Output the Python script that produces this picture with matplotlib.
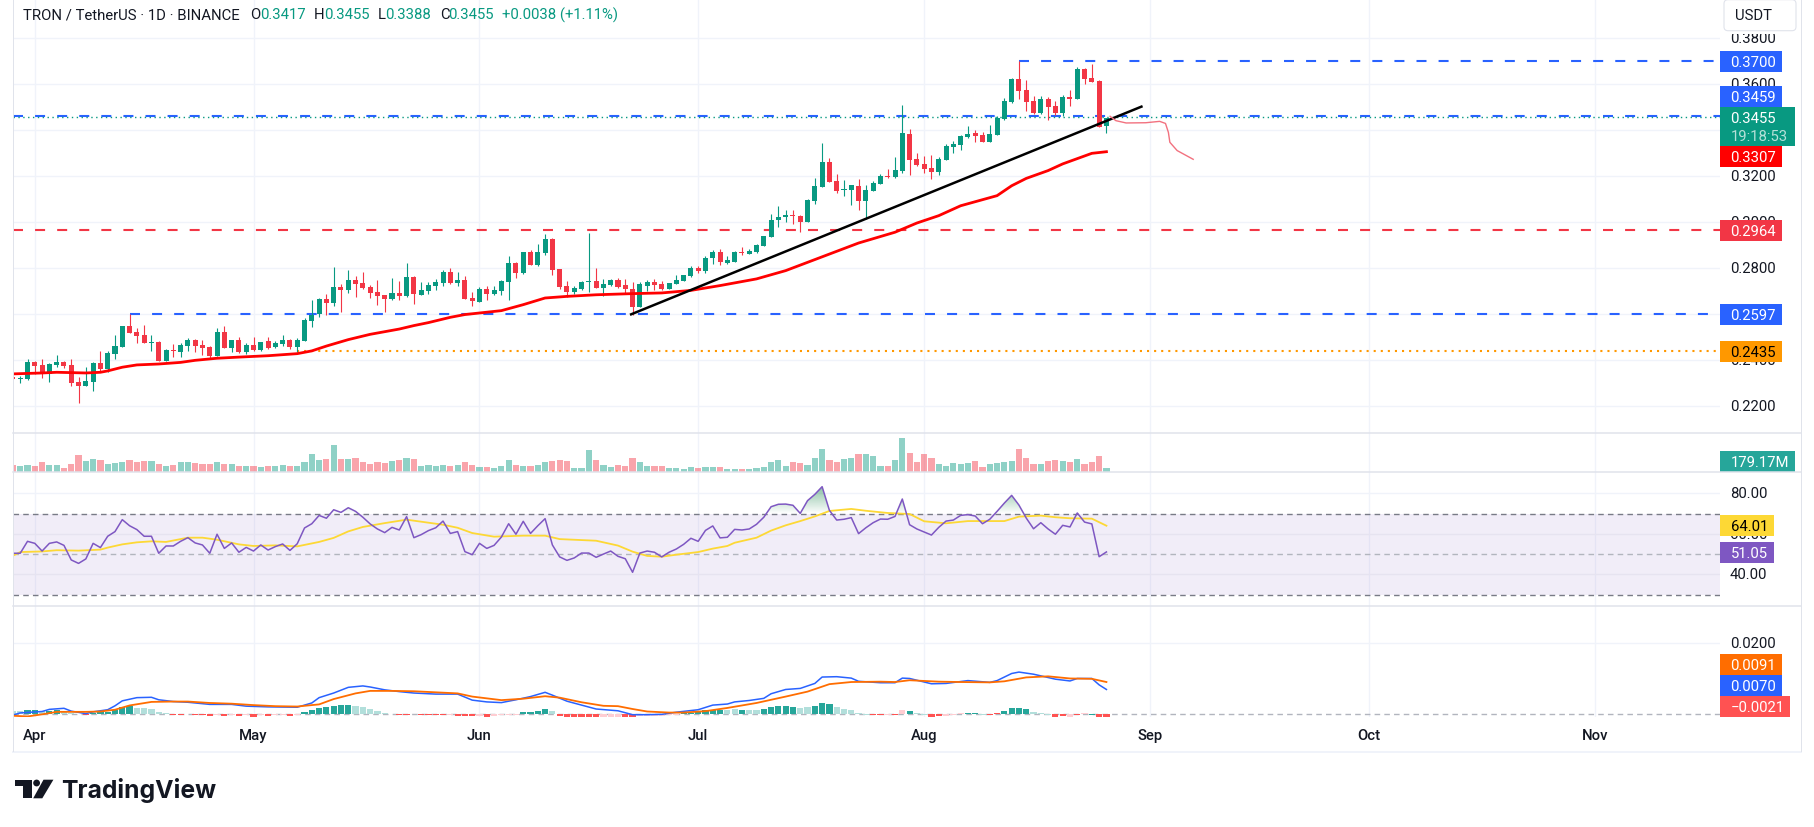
import numpy as np
import matplotlib
matplotlib.use("Agg")
import matplotlib.pyplot as plt
from matplotlib.patches import Rectangle, FancyBboxPatch, Polygon, Circle
from matplotlib.path import Path

plt.rcParams['font.family'] = ['Roboto', 'DejaVu Sans']
plt.rcParams['lines.scale_dashes'] = False

# daily bars, index 0 is 1 April, last bar is 26 August
bar_idx = np.arange(-3, 148)
opens = [.2328,.2320,.2319,.2391,.2380,.2342,.2380,.2391,.2380,.2304,.2288,.2307,.2388,.2362,.2429,.2459,.2549,.2523,.2510,.2477,
         .2480,.2397,.2445,.2436,.2462,.2488,.2467,.2458,.2419,.2523,.2454,.2488,.2436,.2467,.2445,.2484,.2457,.2471,.2487,.2457,
         .2485,.2571,.2601,.2667,.2649,.2719,.2706,.2749,.2736,.2719,.2697,.2684,.2667,.2693,.2680,.2762,.2684,.2701,.2723,.2736,
         .2784,.2736,.2749,.2671,.2654,.2710,.2688,.2701,.2741,.2823,.2780,.2871,.2814,.2867,.2928,.2797,.2723,.2697,.2710,.2742,
         .2745,.2714,.2727,.2749,.2727,.2710,.2632,.2723,.2741,.2732,.2710,.2732,.2745,.2767,.2801,.2788,.2845,.2871,.2823,.2827,
         .2871,.2862,.2870,.2897,.2936,.3010,.3023,.3032,.3028,.3001,.3093,.3154,.3262,.3180,.3142,.3141,.3158,.3093,.3136,.3167,
         .3201,.3197,.3223,.3384,.3275,.3254,.3236,.3219,.3271,.3328,.3336,.3371,.3388,.3380,.3349,.3380,.3449,.3523,.3623,.3575,
         .3528,.3475,.3536,.3506,.3475,.3545,.3536,.3667,.3627,.3614,.3417]
highs = [.2328,.2333,.2406,.2397,.2406,.2388,.2423,.2397,.2406,.2328,.2371,.2391,.2441,.2441,.2510,.2549,.2600,.2541,.2554,.2510,
         .2484,.2449,.2471,.2475,.2497,.2493,.2488,.2462,.2541,.2549,.2488,.2501,.2475,.2501,.2480,.2501,.2485,.2510,.2493,.2498,
         .2584,.2662,.2671,.2688,.2806,.2732,.2793,.2767,.2784,.2727,.2749,.2684,.2758,.2745,.2823,.2767,.2741,.2741,.2754,.2793,
         .2801,.2784,.2767,.2697,.2719,.2723,.2723,.2749,.2854,.2828,.2871,.2880,.2906,.2949,.2932,.2797,.2745,.2723,.2745,.2954,
         .2801,.2754,.2754,.2758,.2754,.2741,.2741,.2749,.2754,.2745,.2736,.2771,.2771,.2810,.2810,.2854,.2880,.2884,.2854,.2875,
         .2893,.2884,.2906,.2941,.3036,.3071,.3054,.3054,.3032,.3101,.3193,.3345,.3280,.3210,.3184,.3162,.3188,.3162,.3180,.3210,
         .3232,.3284,.3510,.3406,.3301,.3288,.3293,.3284,.3341,.3354,.3380,.3419,.3401,.3393,.3423,.3462,.3541,.3628,.3701,.3619,
         .3549,.3549,.3545,.3528,.3554,.3575,.3675,.3671,.3688,.3619,.3455]
lows = [.2319,.2303,.2314,.2339,.2323,.2307,.2371,.2365,.2290,.2216,.2288,.2268,.2348,.2348,.2406,.2459,.2520,.2475,.2475,.2441,
        .2397,.2397,.2414,.2414,.2441,.2436,.2423,.2410,.2419,.2454,.2436,.2432,.2427,.2441,.2441,.2449,.2454,.2464,.2449,.2435,
        .2484,.2545,.2590,.2597,.2636,.2610,.2693,.2675,.2710,.2671,.2641,.2610,.2662,.2662,.2675,.2645,.2684,.2688,.2706,.2723,
        .2732,.2723,.2667,.2636,.2654,.2662,.2684,.2684,.2662,.2758,.2775,.2814,.2810,.2858,.2771,.2710,.2675,.2688,.2706,.2697,
        .2714,.2680,.2723,.2714,.2693,.2597,.2632,.2701,.2706,.2706,.2710,.2732,.2745,.2762,.2780,.2780,.2819,.2814,.2819,.2827,
        .2858,.2862,.2867,.2897,.2936,.2980,.3001,.2993,.2958,.3001,.3080,.3154,.3175,.3127,.3114,.3075,.3054,.3014,.3136,.3167,
        .3193,.3193,.3214,.3206,.3245,.3214,.3188,.3206,.3271,.3301,.3315,.3367,.3349,.3349,.3349,.3380,.3445,.3519,.3536,.3484,
        .3471,.3471,.3445,.3467,.3462,.3506,.3536,.3601,.3610,.3414,.3388]
closes = [.2319,.2323,.2391,.2377,.2339,.2384,.2393,.2375,.2303,.2288,.2310,.2388,.2362,.2432,.2462,.2549,.2520,.2506,.2475,.2480,
          .2397,.2445,.2442,.2467,.2488,.2462,.2454,.2419,.2523,.2454,.2488,.2436,.2467,.2445,.2480,.2454,.2474,.2488,.2457,.2488,
          .2575,.2597,.2667,.2649,.2719,.2706,.2749,.2732,.2714,.2693,.2680,.2667,.2693,.2680,.2762,.2688,.2706,.2727,.2741,.2784,
          .2736,.2749,.2667,.2658,.2710,.2688,.2706,.2745,.2823,.2780,.2871,.2814,.2871,.2928,.2793,.2719,.2697,.2714,.2741,.2745,
          .2714,.2732,.2749,.2719,.2710,.2632,.2732,.2741,.2727,.2710,.2736,.2749,.2771,.2801,.2788,.2845,.2871,.2827,.2836,.2871,
          .2867,.2875,.2901,.2941,.3010,.3023,.3032,.3029,.3001,.3097,.3158,.3262,.3175,.3136,.3145,.3162,.3093,.3141,.3171,.3201,
          .3197,.3228,.3388,.3271,.3249,.3232,.3219,.3275,.3332,.3341,.3375,.3384,.3375,.3349,.3384,.3454,.3528,.3623,.3571,.3523,
          .3475,.3536,.3501,.3475,.3545,.3536,.3667,.3623,.3610,.3414,.3455]

# 50 day moving average, read at these bars
ma_idx = [-3,1,3,7,9,10,12,14,17,20,22,25,28,32,36,38,40,43,46,50,52,54,57,59,64,67,70,73,77,82,86,90,94,99,103,106,109,113,118,121,124,127,132,134,136,139,141,145,147]
ma_val = [.2341,.2345,.2348,.2345,.2348,.2354,.2370,.2380,.2384,.2391,.2400,.2409,.2414,.2420,.2429,.2441,.2462,.2490,.2513,.2536,.2551,.2564,.2587,.2599,.2616,.2642,.2671,.2678,.2685,.2690,.2693,.2704,.2725,.2754,.2790,.2826,.2862,.2910,.2957,.2997,.3029,.3072,.3116,.3159,.3191,.3225,.3254,.3300,.3307]

trend_idx = [81.8, 151.8]
trend_val = [.2600, .3503]
sketch_idx = [147.5,148.3,149.7,152.4,154.3,155.1,155.5,155.7,156.7,157.8,158.9]
sketch_val = [.3461,.3442,.3432,.3433,.3439,.3430,.3391,.3348,.3312,.3293,.3274]

volume_m = [303,262,303,262,427,303,303,179,345,717,469,551,510,345,400,427,510,427,469,469,345,262,303,427,427,386,345,345,427,345,
            345,262,262,262,220,262,262,303,262,262,427,758,510,551,1130,551,551,593,427,345,427,386,469,510,593,551,262,303,262,303,
            262,303,427,303,220,220,179,262,510,303,262,262,303,427,469,510,469,179,179,923,510,303,220,303,262,593,427,262,262,262,
            179,179,138,220,179,220,220,220,138,138,138,138,179,220,427,510,262,427,386,303,593,965,510,427,551,593,758,758,675,262,
            262,510,1419,799,427,758,593,345,262,386,345,386,469,220,345,386,427,469,965,593,345,345,469,510,469,427,551,345,427,675,179]

rsi = [50.4,50.4,56.3,55.3,51.5,55.3,56.0,54.3,47.1,45.4,47.6,55.3,53.2,58.8,61.1,67.0,64.0,62.1,58.8,58.8,50.4,54.0,54.0,56.3,58.1,
       55.5,54.5,50.4,59.8,52.8,55.5,50.9,53.3,51.5,54.5,52.0,53.7,55.0,51.8,55.1,62.9,65.0,69.1,67.7,71.9,70.6,72.9,71.1,68.2,64.9,
       62.4,60.6,63.2,61.9,68.5,58.1,59.6,61.6,63.0,66.3,60.2,61.1,51.2,49.7,55.3,52.8,54.3,58.4,65.0,59.8,66.2,60.2,64.0,67.5,54.5,
       48.6,46.9,48.1,50.5,50.5,48.4,50.0,51.5,48.9,47.7,41.0,50.5,51.5,50.9,48.6,50.9,52.5,54.8,57.8,56.3,61.7,63.9,58.0,58.3,62.2,
       61.9,62.4,64.7,68.2,73.4,74.6,74.7,74.1,70.1,76.4,79.5,83.3,71.6,66.8,67.2,68.0,60.1,63.0,65.5,67.3,67.2,68.6,77.2,64.5,62.4,
       60.9,59.4,63.2,66.3,66.8,69.1,69.5,68.8,65.0,67.2,71.1,75.2,79.0,74.2,67.8,62.5,65.5,62.4,59.8,64.2,63.4,70.3,65.8,64.9,48.7,51.05]
rsi_ma_idx = [-3,-2,1,3,6,9,10,12,14,16,18,21,23,25,28,30,33,36,39,41,43,45,48,51,53,56,58,60,63,67,70,72,77,80,82,84,86,88,91,93,95,96,99,101,103,105,107,109,112,114,117,120,122,125,128,133,135,138,140,142,145,147]
rsi_ma_val = [49.2,51.0,51.3,51.9,51.7,52.2,53.2,54.8,55.8,56.3,56.0,58.1,58.1,57.1,54.8,54.0,54.3,53.8,56.0,58.0,61.2,63.4,65.3,67.0,66.0,64.5,63.0,60.4,58.6,59.1,59.1,57.4,56.6,54.2,51.2,49.1,48.7,49.7,51.0,52.7,54.0,55.6,58.1,61.6,64.2,66.3,68.6,71.3,72.3,71.4,70.3,69.8,66.2,65.2,66.3,66.3,68.5,69.0,68.2,67.7,67.5,64.01]

macd_idx = [-3,-2,1,2,4,5,7,8,10,11,12,14,16,17,19,21,24,27,29,32,36,38,39,41,43,45,46,48,50,52,55,58,60,62,64,66,68,70,71,73,75,77,80,82,84,86,88,91,93,95,96,98,100,101,103,105,107,108,110,112,113,116,118,119,120,123,125,128,131,132,134,135,137,140,142,143,145,146,147]
macd_val = [-.0002,.0004,.0008,.0014,.0017,.0009,.0002,.0007,.0013,.0024,.0038,.0047,.0048,.0041,.0036,.0034,.0028,.0028,.0023,.0021,.0020,.0032,.0047,.0060,.0076,.0080,.0077,.0069,.0064,.0060,.0057,.0057,.0040,.0035,.0033,.0041,.0050,.0062,.0054,.0037,.0026,.0015,.0010,-.0001,-.0001,.0000,.0006,.0013,.0026,.0029,.0035,.0039,.0045,.0058,.0070,.0073,.0087,.0105,.0106,.0102,.0093,.0089,.0089,.0102,.0101,.0086,.0087,.0095,.0090,.0095,.0115,.0119,.0113,.0099,.0094,.0101,.0101,.0083,.0070]
signal_idx = [-3,-1,1,3,7,9,11,13,16,19,21,24,27,30,33,36,39,41,44,46,49,52,55,58,60,64,67,70,72,75,78,80,82,84,87,89,92,95,99,103,106,109,112,116,118,120,124,127,131,133,136,139,142,145,147]
signal_val = [-.0004,-.0006,.0000,.0007,.0007,.0008,.0013,.0025,.0035,.0036,.0036,.0032,.0030,.0026,.0023,.0022,.0028,.0043,.0059,.0066,.0066,.0065,.0062,.0059,.0050,.0040,.0044,.0051,.0047,.0034,.0024,.0023,.0015,.0008,.0005,.0005,.0009,.0018,.0032,.0050,.0064,.0085,.0091,.0092,.0091,.0096,.0092,.0091,.0090,.0093,.0104,.0107,.0101,.0100,.0091]
# histogram in units of 0.0001, D/L rising/falling above zero, R/P falling/rising below zero
macd_hist = [8.5,8.5,12.2,12.2,8.5,10.3,13.2,8.5,4.7,1.9,-2.8,4.7,5.6,7.5,12.2,20.7,22.6,18.8,16.9,15,7.5,3.8,-.9,-.9,.9,-.9,-.9,-4.7,-.9,-4.7,
             -.9,-4.7,-1.9,-6.6,-1.9,-3.8,-1.9,-1.9,-4.7,-.9,7.5,12.2,16.9,20.7,23.5,26.3,26.3,22.6,20.7,15,10.3,4.7,1.9,-.9,-2.8,.9,-2.8,-2.8,-2.8,-2.8,
             -1.9,-4.7,-5.6,-5.6,-5.6,-6.6,-5.6,-.9,-.9,-.9,7.5,7.5,9.4,16,9.4,-4.7,-6.6,-6.6,-6.6,-6.6,-6.6,-7.5,-7.5,-7.5,-7.5,-7.5,-5.6,-5.6,-4.7,-3.8,
             -1.9,-.9,4.7,4.7,8.5,12.2,13.2,13.2,11.3,15,12.2,12.2,13.2,14.1,19.7,23.5,23.5,20.7,18.8,20.7,23.5,32,29.1,20.7,15,12.2,3.8,-1.9,-1.9,-.9,
             -1.9,-.9,12.2,9.4,3.8,-.9,-7.5,-4.7,-4.7,-.9,3.8,3.8,2.8,-.9,-1.9,2.8,8.5,16.9,16.9,14.1,6.6,3.8,-.9,-7.5,-5.6,-7.5,-.9,2.8,-1.9,-7.5,-21]
hist_kind = ("LLDDLDDLLLRDDDDDDLLLLLRRDRRRPRPRPRPRPPRP"
             "DDDDDDDLLLLLLRRDRRRRPRRRPRPPPPDDDDLRRRRRRPPPRRPPPPPP"
             "DDDDDDLLDLLDDDDDLLDDDLLLLLRRPRPDLLRRPPPDDLRRDDDDLLLRRPRPDRRR")

month_labels = ["Apr", "May", "Jun", "Jul", "Aug", "Sep", "Oct", "Nov"]
month_idx = [0, 30, 61, 91, 122, 153, 183, 214]
price_ticks = [.38, .36, .34, .32, .30, .28, .26, .24, .22]
price_tick_labels = ["0.3800", "0.3600", "", "0.3200", "0.3000", "0.2800", "", "0.2400", "0.2200"]
rsi_ticks = [80, 60, 40]
rsi_tick_labels = ["80.00", "60.00", "40.00"]

UP = "#089981"
DOWN = "#f23645"
BLUE = "#2962ff"
GRID = "#f0f3fa"
LINE = "#e0e3eb"
TEXT = "#131722"

W, H = 1814, 828
fig = plt.figure(figsize=(W / 100, H / 100), dpi=100)
L, R = 13, 1719.5
FRAME = 1801


def pane(top, bottom, ylim):
    ax = fig.add_axes([L / W, 1 - bottom / H, (R - L) / W, (bottom - top) / H])
    ax.set_xlim((L - 34.8) / 7.29, (R - 34.8) / 7.29)
    ax.set_ylim(*ylim)
    ax.set_axis_off()
    for m in month_idx:
        ax.axvline(m, color=GRID, lw=1.0, zorder=0)
    return ax


def axis_label(ax, v, s):
    ax.text((1730 - L) / (R - L), v, s, transform=ax.get_yaxis_transform(), color=TEXT,
            fontsize=10.7, va="center", ha="left", clip_on=False)


# price pane
ax = pane(0, 434, (.2084, .3971))
for t, s in zip(price_ticks, price_tick_labels):
    ax.axhline(t, color=GRID, lw=1.0, zorder=0)
    if s:
        axis_label(ax, t, s)
up = np.array(closes) >= np.array(opens)
colors = [UP if u else DOWN for u in up]
ax.vlines(bar_idx, lows, highs, colors=colors, lw=0.8, zorder=3)
body_h = np.maximum(np.abs(np.array(closes) - np.array(opens)), .0004)
ax.bar(bar_idx, body_h, bottom=np.minimum(opens, closes), width=0.69, color=colors, lw=0, zorder=3)

dash = (0, (7.2, 8.7))
x_end = ax.get_xlim()[1]
ax.hlines(.3700, 135, x_end, color=BLUE, lw=1.5, ls=dash, zorder=2)
ax.axhline(.3461, color=BLUE, lw=1.5, ls=dash, zorder=2)
ax.axhline(.3456, color=UP, lw=1.0, ls=(0, (1, 2.5)), zorder=2)
ax.axhline(.2968, color=DOWN, lw=1.5, ls=dash, zorder=2)
ax.hlines(.2601, 13, x_end, color=BLUE, lw=1.5, ls=dash, zorder=2)
ax.hlines(.2442, 36, x_end, color="#ff9800", lw=1.5, ls=(0, (1.5, 3.6)), zorder=2)
ax.plot(ma_idx, ma_val, color="#ff0000", lw=2.0, zorder=4, solid_joinstyle="round")
ax.plot(trend_idx, trend_val, color="black", lw=1.8, zorder=5)
ax.plot(sketch_idx, sketch_val, color="#f2717f", lw=1.0, zorder=5)

# volume pane
axv = pane(434, 473.3, (0, 1626))
axv.bar(bar_idx, volume_m, width=0.85, color=colors, alpha=0.45, lw=0)

# rsi pane
axr = pane(473.3, 607.3, (24.2, 90.4))
axr.axhspan(30, 70, color="#7e57c2", alpha=0.1, lw=0, zorder=1)
for t, s in zip(rsi_ticks, rsi_tick_labels):
    axr.axhline(t, color=GRID if t == 80 else "#e6e3f0", lw=1.0, zorder=1)
    axis_label(axr, t, s)
axr.axhline(70, color="#787b86", lw=1.0, ls=(0, (4, 3)), zorder=2)
axr.axhline(50, color="#b2b5be", lw=1.0, ls=(0, (4, 3)), zorder=2)
axr.axhline(30, color="#787b86", lw=1.0, ls=(0, (4, 3)), zorder=2)
over = axr.fill_between(bar_idx, 70, rsi, where=np.array(rsi) >= 70, interpolate=True, lw=0, alpha=0)
xlim = axr.get_xlim()
grad = np.zeros((40, 1, 4))
grad[:, 0, :3] = (0.05, 0.5, 0.25)
grad[:, 0, 3] = np.linspace(0.5, 0, 40)
im = axr.imshow(grad, extent=[xlim[0], xlim[1], 70, 84], aspect="auto", zorder=2, origin="upper")
im.set_clip_path(Path.make_compound_path(*over.get_paths()), transform=axr.transData)
axr.set_xlim(*xlim)
axr.set_ylim(24.2, 90.4)
axr.plot(rsi_ma_idx, rsi_ma_val, color="#fdd835", lw=1.3, zorder=3)
axr.plot(bar_idx, rsi, color="#7e57c2", lw=1.1, zorder=4)

# macd pane
axm = pane(607.3, 718, (-.00075, .03042))
axm.axhline(.02, color=GRID, lw=1.0, zorder=0)
axis_label(axm, .02, "0.0200")
axm.axhline(0, color="#b2b5be", lw=1.0, ls=(0, (4, 3)), zorder=1)
kind_color = {"D": "#26a69a", "L": "#b2dfdb", "R": "#ff5252", "P": "#ffcdd2"}
axm.bar(bar_idx, np.array(macd_hist) * 1e-4, width=0.85, lw=0, zorder=2,
        color=[kind_color[k] for k in hist_kind])
axm.plot(macd_idx, macd_val, color=BLUE, lw=1.1, zorder=3)
axm.plot(signal_idx, signal_val, color="#ff6d00", lw=1.3, zorder=4)

# frame, labels and header in pixel coordinates
top = fig.add_axes([0, 0, 1, 1], facecolor="none")
top.set_xlim(0, W)
top.set_ylim(H, 0)
top.set_axis_off()

top.plot([13, 13], [0, 752], color=LINE, lw=0.7)
top.plot([FRAME, FRAME], [0, 752], color=LINE, lw=0.7)
for y in [434.3, 473.3, 607.3]:
    top.plot([13, FRAME], [y, y], color=LINE, lw=1.1)
top.add_patch(Rectangle((12, 751.5), FRAME - 11, 2, color=GRID, lw=0))

# currency button, it hides the top of the 0.3800 label
top.add_patch(Rectangle((1721, 0), 78, 35, color="white", lw=0))
top.add_patch(FancyBboxPatch((1726.5, 3.2), 67, 26, boxstyle="round,pad=2.5,rounding_size=4",
                             fc="white", ec=LINE, lw=0.8))
top.text(1735, 16, "USDT", color=TEXT, fontsize=10.7, va="center")

box_labels = [
    (52, 72.7, 1782, BLUE, "0.3700", "white"),
    (87, 107.7, 1782, BLUE, "0.3459", "white"),
    (147, 167.7, 1782, "#ff0000", "0.3307", "white"),
    (221, 241.7, 1782, DOWN, "0.2964", "white"),
    (305, 325.7, 1782, BLUE, "0.2597", "white"),
    (342, 362.7, 1782, "#ff9800", "0.2435", "black"),
    (452, 472.7, 1794.8, "#26a69a", "179.17M", "white"),
    (516, 536.7, 1774, "#fdd835", "64.01", "black"),
    (543, 563.7, 1774, "#7e57c2", "51.05", "white"),
    (655, 675.7, 1782, "#ff6d00", "0.0091", "white"),
    (676, 696.7, 1782, BLUE, "0.0070", "white"),
    (697, 717.7, 1789.6, "#ff5252", "\u22120.0021", "white"),
]
for y0, y1, x1, c, s, tc in box_labels:
    top.add_patch(Rectangle((1720, y0), x1 - 1720, y1 - y0, color=c, lw=0))
    top.text(1730.5, (y0 + y1) / 2 + 0.3, s, color=tc, fontsize=10.7, va="center")
top.add_patch(Rectangle((1720, 108), 74.8, 38.7, color=UP, lw=0))
top.text(1730.5, 118.7, "0.3455", color="white", fontsize=10.7, va="center")
top.text(1730.5, 136.7, "19:18:53", color="#b5e0d8", fontsize=10.7, va="center")

for m, s in zip(month_idx, month_labels):
    top.text(34.8 + 7.29 * m, 736, s, color=TEXT, fontsize=10.7, fontweight="medium", ha="center", va="center")

header = [
    (23, "TRON / TetherUS \u00b7 1D \u00b7 BINANCE", TEXT),
    (250, "O", TEXT), (260, "0.3417", UP),
    (314, "H", TEXT), (324, "0.3455", UP),
    (378, "L", TEXT), (385.5, "0.3388", UP),
    (440, "C", TEXT), (448, "0.3455", UP),
    (502, "+0.0038 (+1.11%)", UP),
]
for x, s, c in header:
    top.text(x, 15, s, color=c, fontsize=10.7, va="center")

# logo
logo = "#131722"
top.add_patch(Polygon([(15, 780.7), (31.6, 780.7), (31.6, 799.3), (23, 799.3), (23, 787.3), (15, 787.3)], color=logo, lw=0))
top.add_patch(Circle((36.6, 784), 3.4, color=logo, lw=0))
top.add_patch(Polygon([(43.5, 780.7), (53.4, 780.7), (42.3, 799.3), (33.2, 799.3)], color=logo, lw=0))
top.text(61.5, 791, "TradingView", color=logo, fontsize=17.8, fontweight="bold", va="center", family=["Inter", "Roboto"])

fig.savefig("out.png", dpi=100)
